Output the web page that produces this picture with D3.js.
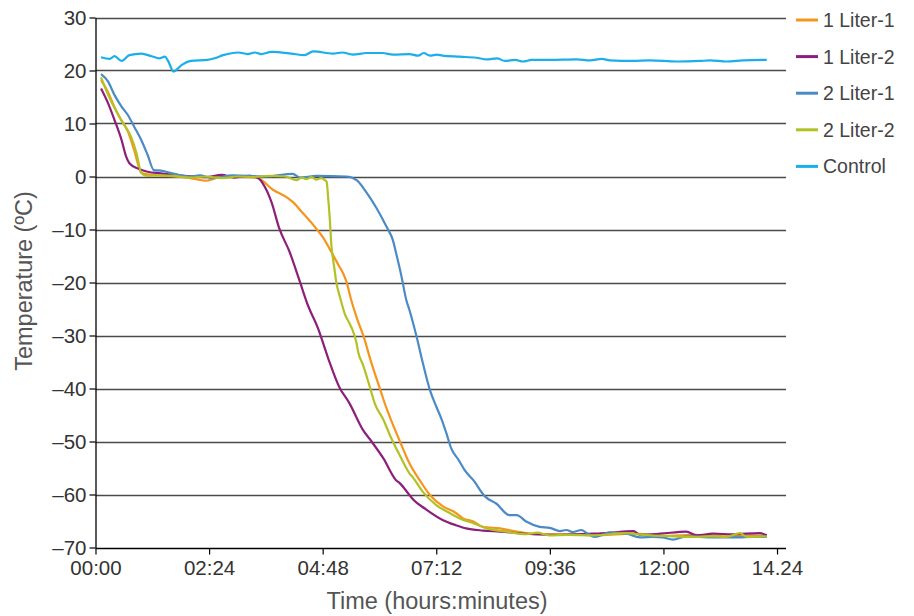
<!DOCTYPE html>
<html>
<head>
<meta charset="utf-8">
<script src="https://cdn.jsdelivr.net/npm/d3@7"></script>
<style>
  body { margin: 0; background: #fff; }
  svg text { font-family: "Liberation Sans", Arial, sans-serif; }
</style>
</head>
<body>
<svg id="chart" width="914" height="616"></svg>
<script>
// time in minutes, temperature in degrees C
var liter1a = [[7,18.2],[15,16.2],[22,13.8],[30,11.3],[41,8.5],[49,5.0],[58,0.7],[66,0.4],[80,0.2],[100,0],[120,-0.3],[140,-0.8],[155,-0.2],[175,0],[195,-0.1],[206,-0.3],[225,-2.5],[244,-4.1],[250,-4.8],[261,-6.6],[278,-9.5],[288,-11.4],[297,-13.7],[308,-16.7],[314,-18.3],[318,-19.8],[324,-23.2],[332,-27],[340,-30.2],[349,-34.8],[358,-38.9],[361,-40.2],[366,-42.5],[373,-45.3],[386,-50.0],[398,-54.1],[411,-57.3],[424,-60.1],[441,-62.3],[454,-63.2],[466,-64.5],[479,-65.1],[491,-66.1],[513,-66.4],[534,-67.0],[563,-67.5],[600,-67.5],[640,-67.7],[680,-67.4],[720,-67.8],[760,-67.6],[800,-67.9],[830,-67.7],[851,-67.8]];

var liter1b = [[7,16.6],[16,13.8],[24,10.7],[33,6.9],[39,3.7],[43,2.5],[54,1.5],[66,0.9],[83,0.6],[100,0.3],[125,0],[140,-0.1],[160,0.3],[176,-0.2],[195,0.1],[206,-0.3],[212,-1.3],[223,-4.8],[233,-9.8],[246,-14.2],[259,-19.8],[269,-24.2],[282,-28.6],[295,-34.3],[309,-39.7],[322,-42.8],[339,-47.8],[350,-50],[365,-53.2],[381,-57.3],[386,-57.9],[398,-60.1],[403,-61],[419,-62.8],[440,-64.8],[457,-65.8],[470,-66.4],[491,-66.8],[513,-67.0],[555,-67.5],[589,-67.6],[631,-67.4],[652,-67.2],[682,-66.9],[690,-67.6],[716,-67.4],[749,-67.0],[762,-67.7],[783,-67.4],[808,-67.5],[842,-67.3],[851,-67.7]];

var liter2a = [[7,19.3],[16,17.9],[24,15.4],[33,13.2],[41,11.6],[49,9.4],[58,6.9],[66,4.1],[74,1.2],[83,1.1],[100,0.5],[119,0],[132,0.2],[148,-0.3],[174,0.2],[217,0],[250,0.5],[259,-0.2],[280,0.1],[318,0],[331,-0.7],[343,-2.9],[356,-5.9],[369,-9.5],[377,-12],[381,-14.4],[388,-18.9],[394,-23.3],[398,-25.2],[407,-30.2],[415,-35.2],[424,-40.3],[432,-43.4],[439,-45.9],[445,-48.5],[451,-51.3],[460,-53.4],[468,-55.4],[479,-57.3],[494,-60.4],[508,-61.7],[525,-63.9],[534,-63.9],[546,-65.1],[563,-66.1],[576,-66.3],[589,-66.9],[597,-66.7],[605,-67.1],[616,-66.7],[623,-67.3],[633,-68.0],[652,-67.2],[673,-67.4],[690,-68.1],[707,-68.0],[719,-68.1],[732,-68.5],[749,-67.9],[766,-68.0],[792,-68.1],[813,-68.1],[834,-68.0],[851,-68.0]];

var liter2b = [[7,18.7],[17,15.1],[34,10.3],[45,7.5],[52,4.4],[58,0.7],[65,0.1],[80,0.2],[100,0.1],[120,-0.2],[140,0],[160,-0.3],[180,0],[200,-0.1],[220,0.1],[240,0],[255,-0.7],[261,-0.2],[267,-0.5],[274,-0.1],[280,-0.6],[286,-0.3],[291,-0.7],[293,-1.0],[295,-4.1],[297,-8.0],[299,-12.9],[301,-15.5],[303,-17.5],[305,-19.7],[310,-22.8],[316,-25.9],[322,-27.7],[326,-29],[331,-31.5],[333,-33.1],[339,-35.5],[348,-39.8],[354,-42.8],[365,-45.9],[375,-49.4],[386,-52.7],[398,-56],[403,-56.9],[415,-59.5],[432,-62],[449,-63.5],[466,-64.8],[479,-65.4],[496,-66.4],[521,-67],[546,-67.5],[560,-67.2],[575,-67.7],[600,-67.6],[631,-67.7],[673,-67.3],[694,-67.6],[737,-67.9],[757,-68],[783,-67.9],[800,-68],[817,-67.3],[826,-68],[851,-67.9]];

var control = [[7,22.5],[18,22.2],[24,22.7],[33,21.8],[43,22.9],[58,23.2],[71,22.7],[81,22.3],[88,22.6],[92,21.8],[99,19.8],[109,21.0],[121,21.8],[142,22.0],[151,22.3],[162,22.9],[181,23.4],[193,23.1],[202,23.4],[210,23.1],[223,23.5],[248,23.2],[265,22.9],[276,23.6],[301,23.2],[313,23.4],[326,23.0],[344,23.3],[364,23.3],[377,23.0],[398,23.1],[409,22.8],[416,23.3],[424,22.8],[433,23.0],[440,22.8],[462,22.6],[483,22.4],[496,22.1],[509,22.3],[519,21.8],[532,22.0],[542,21.7],[553,22.0],[576,22.0],[610,22.1],[627,21.9],[642,22.2],[652,21.9],[681,21.8],[703,21.9],[737,21.7],[766,21.8],[779,21.9],[800,21.7],[821,21.9],[851,22.0]];

var seriesNames = ["1 Liter-1", "1 Liter-2", "2 Liter-1", "2 Liter-2", "Control"];
var seriesData = [liter1a, liter1b, liter2a, liter2b, control];
var colors = ["#F7941D", "#8B1F7B", "#4A8AC6", "#B3C124", "#1AAEEB"];

var xTicks = [0, 144, 288, 432, 576, 720, 864];
var xTickLabels = ["00:00", "02:24", "04:48", "07:12", "09:36", "12:00", "14.24"];
var yTicks = [30, 20, 10, 0, -10, -20, -30, -40, -50, -60, -70];
var yTickLabels = ["30", "20", "10", "0", "–10", "–20", "–30", "–40", "–50", "–60", "–70"];

var svg = d3.select("#chart");

var x = d3.scaleLinear().domain([0, 875]).range([95.5, 785.7]);
var y = d3.scaleLinear().domain([-70, 30]).range([547.5, 17.5]);

// gridlines
svg.append("g").selectAll("line")
  .data(yTicks.filter(function(d) { return d > -70; }))
  .enter().append("line")
  .attr("x1", 95.5).attr("x2", 786)
  .attr("y1", function(d) { return Math.round(y(d)) + 0.5; })
  .attr("y2", function(d) { return Math.round(y(d)) + 0.5; })
  .attr("stroke", "#4a4a4a")
  .attr("stroke-width", 1.3);

var xAxis = d3.axisBottom(x)
  .tickValues(xTicks)
  .tickFormat(function(d, i) { return xTickLabels[i]; })
  .tickSize(6).tickSizeOuter(0).tickPadding(6);

var gx = svg.append("g")
  .attr("transform", "translate(0," + (Math.round(y(-70)) + 0.5) + ")")
  .call(xAxis);
gx.select(".domain").attr("d", "M95.5,0H786").attr("stroke", "#000").attr("stroke-width", 1.3);
gx.selectAll(".tick line").attr("stroke", "#000").attr("stroke-width", 1.2);
gx.selectAll(".tick text")
  .attr("font-size", 20.5).attr("fill", "#333")
  .style("font-family", "'Liberation Sans', Arial, sans-serif");

var yAxis = d3.axisLeft(y)
  .tickValues(yTicks)
  .tickFormat(function(d, i) { return yTickLabels[i]; })
  .tickSize(6).tickSizeOuter(0).tickPadding(3);

var gy = svg.append("g")
  .attr("transform", "translate(95.5,0)")
  .call(yAxis);
gy.select(".domain").attr("stroke", "#000").attr("stroke-width", 1.3);
gy.selectAll(".tick line").attr("stroke", "#000").attr("stroke-width", 1.2);
gy.selectAll(".tick text")
  .attr("font-size", 20.5).attr("fill", "#333")
  .style("font-family", "'Liberation Sans', Arial, sans-serif");

// lines
var line = d3.line()
  .x(function(d) { return x(d[0]); })
  .y(function(d) { return y(d[1]); })
  .curve(d3.curveMonotoneX);

svg.append("g").selectAll("path")
  .data(seriesData)
  .enter().append("path")
  .attr("d", line)
  .attr("fill", "none")
  .attr("stroke", function(d, i) { return colors[i]; })
  .attr("stroke-width", 2.2)
  .attr("stroke-linejoin", "round");

// axis titles
svg.append("text")
  .text("Time (hours:minutes)")
  .attr("x", 437).attr("y", 609)
  .attr("text-anchor", "middle")
  .attr("font-size", 23.5).attr("fill", "#555");

svg.append("text")
  .text("Temperature (ºC)")
  .attr("transform", "translate(32,281) rotate(-90)")
  .attr("text-anchor", "middle")
  .attr("font-size", 23.5).attr("fill", "#555");

// legend
var legend = svg.append("g").selectAll("g")
  .data(seriesNames)
  .enter().append("g")
  .attr("transform", function(d, i) { return "translate(796," + (20 + i * 36.6) + ")"; });

legend.append("line")
  .attr("x1", 0).attr("x2", 22)
  .attr("stroke", function(d, i) { return colors[i]; })
  .attr("stroke-width", 3);

legend.append("text")
  .text(function(d) { return d; })
  .attr("x", 27).attr("y", 7)
  .attr("font-size", 19.5).attr("fill", "#444");
</script>
</body>
</html>
